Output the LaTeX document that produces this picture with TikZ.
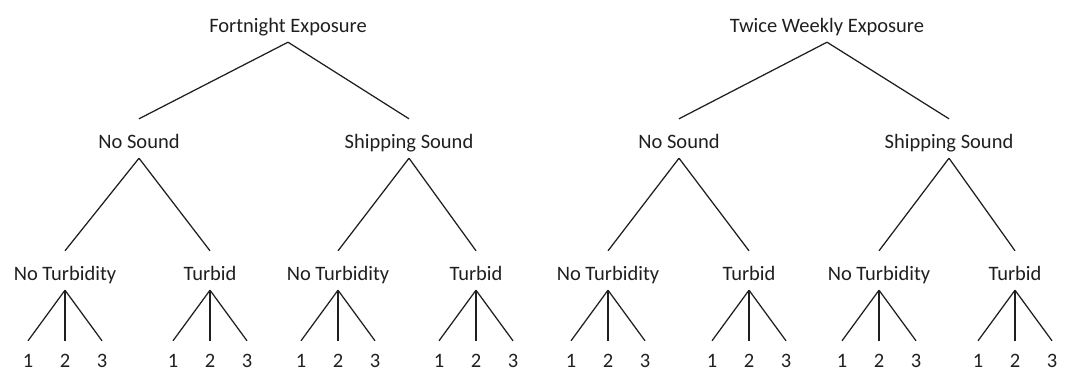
\documentclass[tikz,border=0pt]{standalone}
\usepackage{fontspec}
\setmainfont{Carlito}
\begin{document}
\begin{tikzpicture}[x=1pt,y=-1pt,
  lbl/.style={font=\fontsize{20.5}{24}\selectfont, text=black!88, inner sep=0pt,
              text height=29pt, text depth=10pt, anchor=base},
  leaf/.style={lbl, text height=26pt, text depth=0pt},
  edge/.style={draw=black!88, line width=1.25pt}]
\useasboundingbox (0,0) rectangle (1081,372);
% level 0
\node[lbl] (F) at (288,32) {Fortnight Exposure};
\node[lbl] (W) at (827,32) {Twice Weekly Exposure};
% level 1
\node[lbl] (NS1) at (139,148) {No Sound};
\node[lbl] (SS1) at (409,148) {Shipping Sound};
\node[lbl] (NS2) at (679,148) {No Sound};
\node[lbl] (SS2) at (949,148) {Shipping Sound};
% level 2
\node[lbl] (NT1) at (65,280) {No Turbidity};
\node[lbl] (T1)  at (210,280) {Turbid};
\node[lbl] (NT2) at (338,280) {No Turbidity};
\node[lbl] (T2)  at (476,280) {Turbid};
\node[lbl] (NT3) at (608,280) {No Turbidity};
\node[lbl] (T3)  at (749,280) {Turbid};
\node[lbl] (NT4) at (879,280) {No Turbidity};
\node[lbl] (T4)  at (1015,280) {Turbid};
% edges
\draw[edge] (F.south) -- (NS1.north);
\draw[edge] (F.south) -- (SS1.north);
\draw[edge] (W.south) -- (NS2.north);
\draw[edge] (W.south) -- (SS2.north);
\draw[edge] (NS1.south) -- (NT1.north);
\draw[edge] (NS1.south) -- (T1.north);
\draw[edge] (SS1.south) -- (NT2.north);
\draw[edge] (SS1.south) -- (T2.north);
\draw[edge] (NS2.south) -- (NT3.north);
\draw[edge] (NS2.south) -- (T3.north);
\draw[edge] (SS2.south) -- (NT4.north);
\draw[edge] (SS2.south) -- (T4.north);
% leaves
\foreach \p/\x in {NT1/65,T1/210,NT2/338,T2/476,NT3/608,T3/749,NT4/879,T4/1015}{
  \node[leaf] (\p-1) at (\x-37,367) {1};
  \node[leaf] (\p-2) at (\x,367) {2};
  \node[leaf] (\p-3) at (\x+37,367) {3};
  \draw[edge] (\p.south) -- (\p-1.north);
  \draw[edge] (\p.south) -- (\p-2.north);
  \draw[edge] (\p.south) -- (\p-3.north);
}
\end{tikzpicture}
\end{document}
